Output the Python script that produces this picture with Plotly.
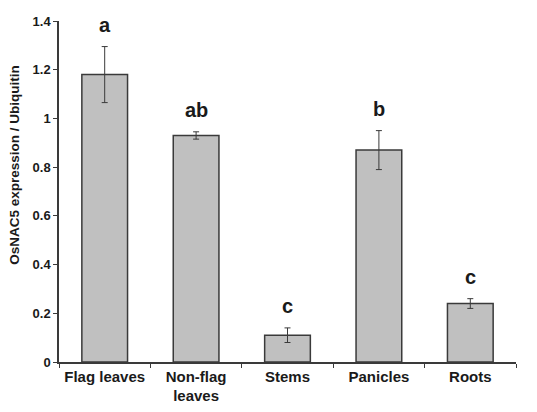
import plotly.graph_objects as go

# Dane
tissues = ['Flag leaves', 'Non-flag<br>leaves', 'Stems', 'Panicles', 'Roots']
expression = [1.18, 0.93, 0.11, 0.87, 0.24]
errors = [0.115, 0.015, 0.03, 0.08, 0.02]
letters = ['a', 'ab', 'c', 'b', 'c']

fig = go.Figure()

fig.add_trace(go.Bar(
    x=tissues, y=expression,
    marker=dict(color='#c0c0c0', line=dict(color='#3a3a3a', width=1.5)),
    error_y=dict(type='data', array=errors, color='#3a3a3a', thickness=1, width=3),
    width=0.5,
    showlegend=False
))

# Litery nad słupkami
for t, v, e, l in zip(tissues, expression, errors, letters):
    fig.add_annotation(
        x=t, y=v + e, text=l, showarrow=False,
        yanchor='bottom', yshift=9,
        font=dict(family='Liberation Sans', size=20, color='#1a1a1a', weight='bold')
    )

# Tytuł osi Y (przesunięty do góry jak w oryginale)
fig.add_annotation(
    xref='paper', x=0, xanchor='center', xshift=-44,
    yref='y', y=0.81, yanchor='middle',
    text='OsNAC5 expression / Ubiquitin', textangle=-90, showarrow=False,
    font=dict(family='Liberation Sans', size=13.5, color='#1a1a1a', weight='bold')
)

# strona ma margines 8px, więc marginesy są przesunięte
fig.update_layout(
    width=537, height=412,
    margin=dict(l=51, r=29, t=13, b=58),
    plot_bgcolor='white', paper_bgcolor='white',
    font=dict(family='Liberation Sans', color='#1a1a1a'),
    bargap=0.5,
    xaxis=dict(
        showline=True, linecolor='#3a3a3a', linewidth=1.5,
        ticks='outside', tickson='boundaries', ticklen=4, tickcolor='#3a3a3a',
        tickfont=dict(size=15, weight='bold'),
        showgrid=False, automargin=False
    ),
    yaxis=dict(
        range=[0, 1.4], dtick=0.2,
        showline=True, linecolor='#3a3a3a', linewidth=1.5,
        ticks='outside', ticklen=4, tickcolor='#3a3a3a',
        tickfont=dict(size=13, weight='bold'),
        showgrid=False, zeroline=False, automargin=False
    )
)

fig.write_html('out.html')
